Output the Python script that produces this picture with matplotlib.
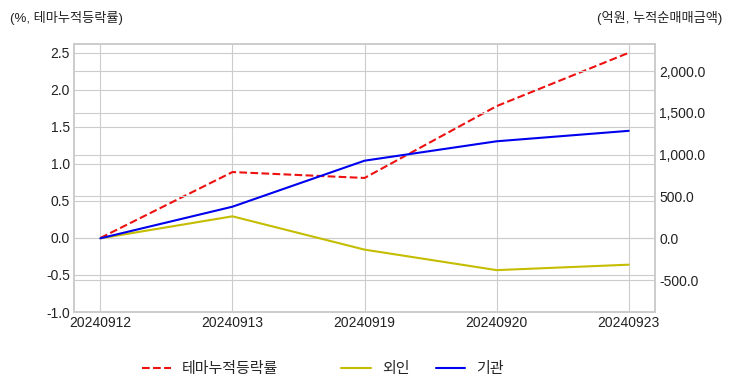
import matplotlib
matplotlib.use("Agg")
import matplotlib.pyplot as plt
from matplotlib.ticker import FuncFormatter

# data
dates = ["20240912", "20240913", "20240919", "20240920", "20240923"]
theme_ret = [0.0, 0.89, 0.81, 1.78, 2.50]       # 테마누적등락률 (%)
foreign = [0.0, 263, -135, -380, -315]          # 외인 누적순매매 (억원)
institution = [0.0, 378, 928, 1160, 1285]       # 기관 누적순매매 (억원)

plt.style.use("seaborn-v0_8-whitegrid")
plt.rcParams["font.family"] = ["Liberation Sans", "Noto Sans CJK KR", "DejaVu Sans"]
plt.rcParams["axes.unicode_minus"] = False

fig, ax1 = plt.subplots(figsize=(7.32, 3.92), dpi=100)
fig.subplots_adjust(left=0.101, right=0.895, top=0.888, bottom=0.204)

x = range(len(dates))
l1, = ax1.plot(x, theme_ret, color="#ee1111", linestyle="--", linewidth=1.5, label="테마누적등락률")
ax1.set_ylim(-1.0, 2.62)
ax1.set_yticks([-1.0, -0.5, 0.0, 0.5, 1.0, 1.5, 2.0, 2.5])
ax1.set_xlim(-0.2, 4.2)
ax1.set_xticks(list(x))
ax1.set_xticklabels(dates)

ax2 = ax1.twinx()
l2, = ax2.plot(x, foreign, color="#c4bd00", linewidth=1.5, label="외인")
l3, = ax2.plot(x, institution, color="#0000ee", linewidth=1.5, label="기관")
ax2.set_ylim(-881, 2324)
ax2.set_yticks([-500, 0, 500, 1000, 1500, 2000])
ax2.yaxis.set_major_formatter(FuncFormatter(lambda v, p: f"{v:,.1f}"))
ax2.grid(True, color="#cccccc", linewidth=0.8)

for ax in (ax1, ax2):
    ax.tick_params(axis="both", labelsize=10, length=0, pad=3, colors="#222222")
    for s in ax.spines.values():
        s.set_color("#cccccc")
        s.set_linewidth(1.2)
ax1.grid(True, color="#cccccc", linewidth=0.8)

fig.text(0.013, 0.955, "(%, 테마누적등락률)", fontsize=9.5, color="#222222", va="center")
fig.text(0.987, 0.955, "(억원, 누적순매매금액)", fontsize=9.5, color="#222222", va="center", ha="right")

fig.legend([l1], [l1.get_label()], loc="center left", bbox_to_anchor=(0.175, 0.058),
           frameon=False, fontsize=10.8, handlelength=1.95, handletextpad=0.75)
fig.legend([l2, l3], [l2.get_label(), l3.get_label()], loc="center left", ncol=2,
           bbox_to_anchor=(0.448, 0.058), frameon=False, fontsize=10.8,
           handlelength=1.95, handletextpad=0.75, columnspacing=1.75)

plt.savefig("out.png", dpi=100)
